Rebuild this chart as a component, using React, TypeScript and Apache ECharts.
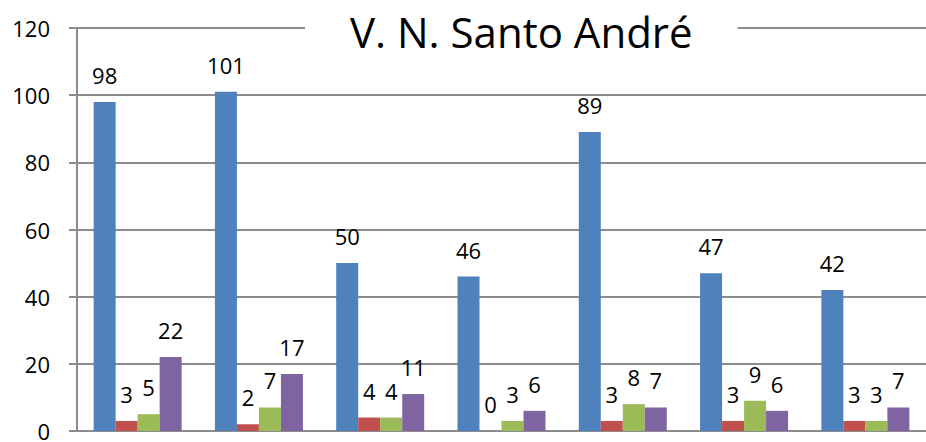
import React, { useEffect, useRef } from "react";
import * as echarts from "echarts";

const categories = ["1", "2", "3", "4", "5", "6", "7"];
const seriesBlue = [98, 101, 50, 46, 89, 47, 42];
const seriesRed = [3, 2, 4, 0, 3, 3, 3];
const seriesGreen = [5, 7, 4, 3, 8, 9, 3];
const seriesPurple = [22, 17, 11, 6, 7, 6, 7];
const titleText = "V. N. Santo André";

const FONT = "'Open Sans', sans-serif";

export default function App() {
  const ref = useRef<HTMLDivElement>(null);
  useEffect(() => {
    const chart = echarts.init(ref.current!, null, { renderer: "svg" });
    const mk = (name: string, data: number[], color: string) => ({
      name,
      type: "bar",
      data,
      barWidth: 22,
      barGap: "0%",
      itemStyle: { color },
      label: {
        show: true,
        position: "top",
        distance: 16,
        color: "#000",
        fontFamily: FONT,
        fontSize: 22,
        lineHeight: 22,
      },
    });
    chart.setOption({
      animation: false,
      backgroundColor: "#fff",
      title: {
        text: titleText,
        left: 305,
        top: 6,
        padding: [0, 45, 0, 45],
        backgroundColor: "#fff",
        textStyle: {
          fontFamily: FONT,
          fontSize: 42,
          fontWeight: "normal",
          color: "#000",
          lineHeight: 50,
        },
      },
      grid: { left: 77, right: -8, top: 28, bottom: 10, containLabel: false },
      xAxis: {
        type: "category",
        data: categories,
        axisLine: { show: true, lineStyle: { color: "#8c8c8c", width: 2 } },
        axisTick: { show: false },
        axisLabel: { show: false },
        splitLine: { show: false },
      },
      yAxis: {
        type: "value",
        min: 0,
        max: 120,
        interval: 20,
        axisLine: { show: true, lineStyle: { color: "#8c8c8c", width: 2 } },
        axisTick: { show: true, length: 8, lineStyle: { color: "#8c8c8c", width: 2 } },
        axisLabel: {
          margin: 27,
          color: "#000",
          fontFamily: FONT,
          fontSize: 22,
          lineHeight: 16,
        },
        splitLine: { show: true, lineStyle: { color: "#8c8c8c", width: 2 } },
      },
      series: [
        mk("A", seriesBlue, "#4F81BD"),
        mk("B", seriesRed, "#C0504D"),
        mk("C", seriesGreen, "#9BBB59"),
        mk("D", seriesPurple, "#8064A2"),
      ],
    });
    return () => chart.dispose();
  }, []);
  return (
    <div
      ref={ref}
      style={{ position: "fixed", left: 0, top: 0, width: 926, height: 442 }}
    />
  );
}
